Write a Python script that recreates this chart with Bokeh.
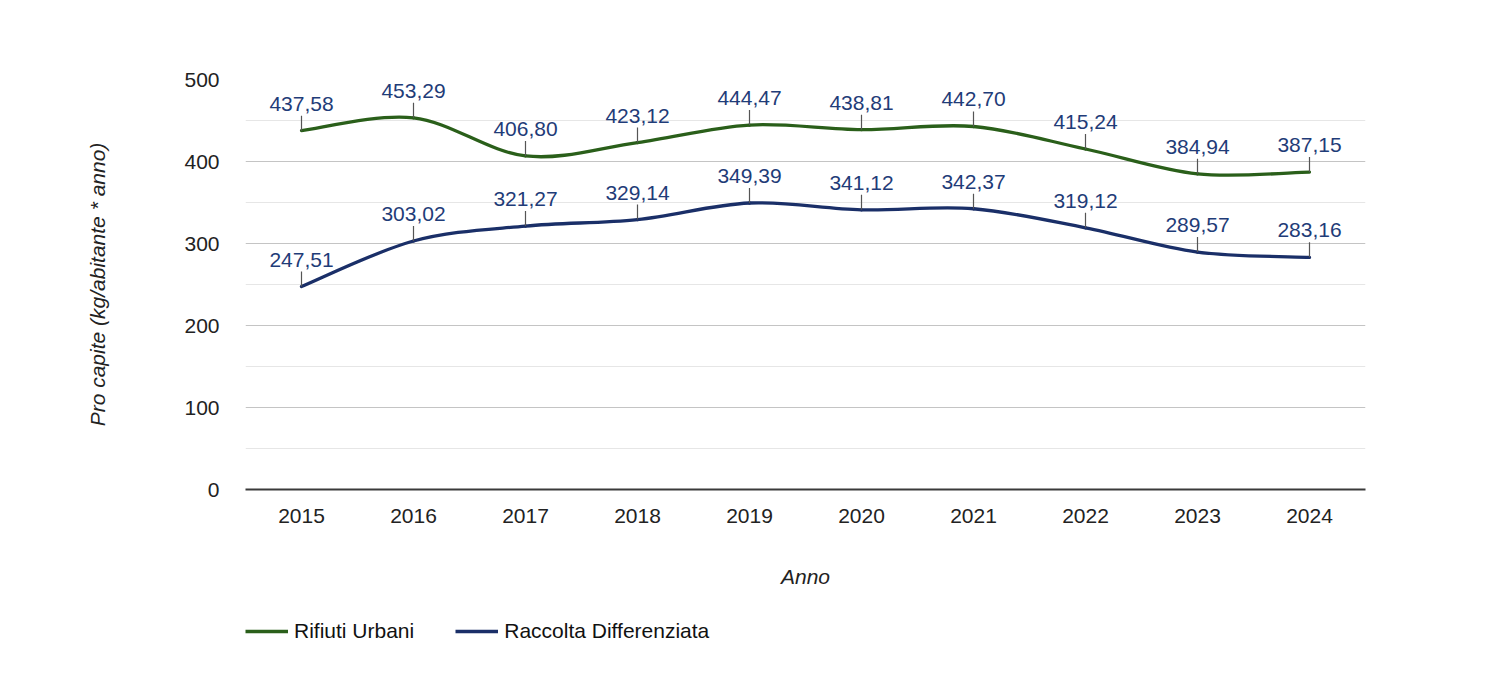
import math
from bokeh.plotting import figure
from bokeh.layouts import column
from bokeh.models import Range1d, FixedTicker, Legend, LegendItem, ColumnDataSource
from bokeh.core.properties import value
from bokeh.embed import file_html
from bokeh.resources import INLINE

years = [2015, 2016, 2017, 2018, 2019, 2020, 2021, 2022, 2023, 2024]
rifiuti_urbani = [437.58, 453.29, 406.80, 423.12, 444.47, 438.81, 442.70, 415.24, 384.94, 387.15]
raccolta_diff = [247.51, 303.02, 321.27, 329.14, 349.39, 341.12, 342.37, 319.12, 289.57, 283.16]
y_ticks = [0, 100, 200, 300, 400, 500]
y_minor = [50, 150, 250, 350, 450]

GREEN = "#2a5f1a"
NAVY = "#1a2f68"
LABEL = "#1f3c78"
FONT = "Liberation Sans"
FS = "21px"

p = figure(width=1472, height=600, output_backend="svg", toolbar_location=None,
           x_range=Range1d(2014.5, 2024.5), y_range=Range1d(0, 500),
           min_border_left=245, min_border_right=107, min_border_top=79, min_border_bottom=111)
p.outline_line_color = None
p.background_fill_color = "white"
p.border_fill_color = "white"

# grid
p.xgrid.grid_line_color = None
p.ygrid.ticker = FixedTicker(ticks=y_ticks, minor_ticks=y_minor)
p.ygrid.grid_line_color = "#c4c4c4"
p.ygrid.grid_line_width = 1.2
p.ygrid.minor_grid_line_color = "#e6e6e6"
p.ygrid.minor_grid_line_width = 1

# axes
p.xaxis.ticker = FixedTicker(ticks=years)
p.xaxis.axis_line_color = "#3a3a3a"
p.xaxis.axis_line_width = 2
p.xaxis.major_tick_line_color = None
p.xaxis.minor_tick_line_color = None
p.xaxis.major_label_text_font = FONT
p.xaxis.major_label_text_font_size = FS
p.xaxis.major_label_text_color = "#222222"
p.xaxis.major_label_standoff = 13
p.xaxis.axis_label = "Anno"
p.xaxis.axis_label_text_font = FONT
p.xaxis.axis_label_text_font_style = "italic"
p.xaxis.axis_label_text_font_size = FS
p.xaxis.axis_label_text_color = "#222222"
p.xaxis.axis_label_standoff = 39

p.yaxis.ticker = FixedTicker(ticks=y_ticks)
p.yaxis.axis_line_color = None
p.yaxis.major_tick_line_color = None
p.yaxis.minor_tick_line_color = None
p.yaxis.major_label_text_font = FONT
p.yaxis.major_label_text_font_size = FS
p.yaxis.major_label_text_color = "#222222"
p.yaxis.major_label_standoff = 20
p.yaxis.axis_label = "Pro capite (kg/abitante * anno)"
p.yaxis.axis_label_text_font = FONT
p.yaxis.axis_label_text_font_style = "italic"
p.yaxis.axis_label_text_font_size = FS
p.yaxis.axis_label_text_color = "#222222"
p.yaxis.axis_label_standoff = 72


def smooth_segments(xs, ys):
    n = len(xs)
    d = dict(x0=[], y0=[], x1=[], y1=[], cx0=[], cy0=[], cx1=[], cy1=[])
    for i in range(n - 1):
        xm, ym = (xs[i - 1], ys[i - 1]) if i > 0 else (xs[i], ys[i])
        xp, yp = (xs[i + 2], ys[i + 2]) if i + 2 < n else (xs[i + 1], ys[i + 1])
        d["x0"].append(xs[i]); d["y0"].append(ys[i])
        d["x1"].append(xs[i + 1]); d["y1"].append(ys[i + 1])
        d["cx0"].append(xs[i] + (xs[i + 1] - xm) / 6)
        d["cy0"].append(ys[i] + (ys[i + 1] - ym) / 6)
        d["cx1"].append(xs[i + 1] - (xp - xs[i]) / 6)
        d["cy1"].append(ys[i + 1] - (yp - ys[i]) / 6)
    return ColumnDataSource(d)


# legend strip below the chart (its ranges keep the proxy lines out of view)
pl = figure(width=1472, height=58, output_backend="svg", toolbar_location=None,
            x_range=Range1d(0, 1), y_range=Range1d(0, 1),
            x_axis_type=None, y_axis_type=None, min_border=0)
pl.outline_line_color = None
pl.grid.grid_line_color = None
pl.background_fill_color = "white"
pl.border_fill_color = "white"

series = [("Rifiuti Urbani", rifiuti_urbani, GREEN), ("Raccolta Differenziata", raccolta_diff, NAVY)]
items = []
for name, vals, col in series:
    src = smooth_segments(years, vals)
    p.bezier(x0="x0", y0="y0", x1="x1", y1="y1", cx0="cx0", cy0="cy0", cx1="cx1", cy1="cy1",
             source=src, line_color=col, line_width=3.3, line_cap="round")
    # leader lines
    p.ray(x=years, y=vals, length=15, length_units="screen", angle=math.pi / 2,
          line_color="#555555", line_width=1.2)
    labels = [f"{v:.2f}".replace(".", ",") for v in vals]
    p.text(x=years, y=vals, text=labels, y_offset=-20, text_align="center",
           text_baseline="bottom", text_font=value(FONT), text_font_size=FS,
           text_color=LABEL)
    proxy = pl.line(x=years, y=vals, line_color=col, line_width=3.5)
    items.append(LegendItem(label=name, renderers=[proxy]))

legend = Legend(items=items, orientation="horizontal", location=(0, 15),
                glyph_width=43, glyph_height=20, label_standoff=6, spacing=41,
                padding=0, margin=0, border_line_color=None, background_fill_alpha=0,
                label_text_font=FONT, label_text_font_size=FS, label_text_color="#111111")
pl.add_layout(legend, "center")

layout = column(p, pl, spacing=0)
open("out.html", "w").write(file_html(layout, INLINE))
